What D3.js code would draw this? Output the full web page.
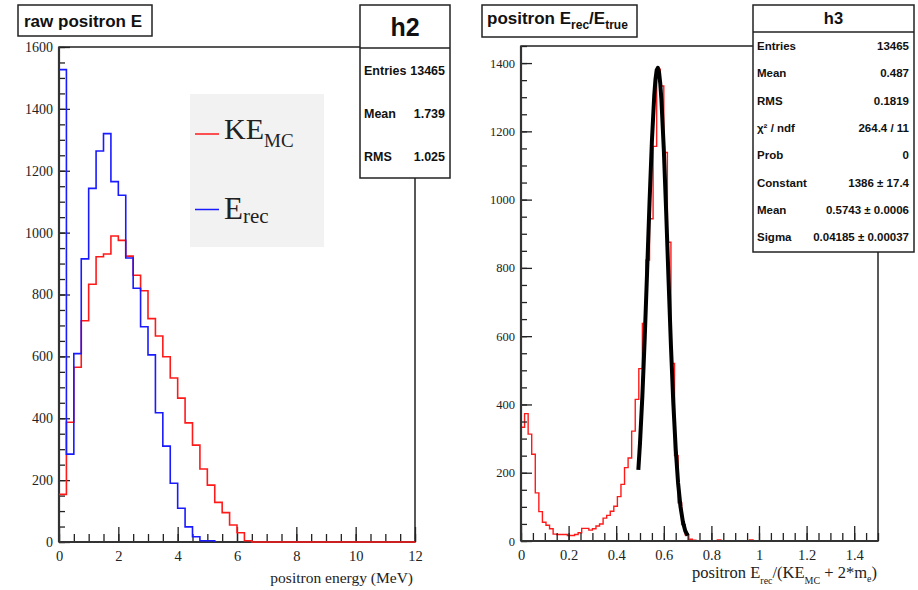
<!DOCTYPE html>
<html>
<head>
<meta charset="utf-8">
<script src="https://cdn.jsdelivr.net/npm/d3@7"></script>
<style>
  body { margin: 0; background: #fff; }
  svg text { font-family: "Liberation Serif", "Times New Roman", serif; fill: #222; }
  svg text.sans { font-family: "Liberation Sans", Arial, sans-serif; font-weight: bold; fill: #111; }
</style>
</head>
<body>
<div id="chart"></div>
<script>
// left pad: raw positron E, 0.25 MeV bins starting at 0
const energyBinWidth = 0.25;
const keMcCounts = [154, 387, 565, 715, 833, 922, 931, 989, 975, 924, 862, 812,
  722, 666, 599, 530, 465, 385, 313, 236, 184, 128, 95, 55,
  30, 4, 0, 0, 0, 0, 0, 0, 0, 0, 0, 0,
  0, 0, 0, 0, 0, 0, 0, 0, 0, 0, 0, 0];
const eRecCounts = [1527, 284, 609, 915, 1143, 1264, 1320, 1165, 1121, 918, 820, 696,
  605, 418, 310, 190, 109, 49, 17, 4, 4];
const energyTicks = [0, 2, 4, 6, 8, 10, 12];
const leftCountTicks = [0, 200, 400, 600, 800, 1000, 1200, 1400, 1600];
const h2Stats = [["Entries", "13465"], ["Mean", "1.739"], ["RMS", "1.025"]];

// right pad: Erec/Etrue, 100 bins of 0.015 from 0 to 1.5
const ratioBinWidth = 0.015;
const ratioCounts = [333, 373, 313, 254, 141, 86, 55, 46, 36, 20,
  19, 19, 19, 16, 16, 19, 24, 37, 37, 32,
  36, 44, 50, 67, 75, 87, 102, 130, 166, 215,
  243, 322, 415, 505, 637, 823, 944, 1156, 1382, 1333,
  1138, 875, 520, 250, 112, 48, 18, 5, 2, 0,
  0, 0, 0, 0, 0, 3, 0, 0, 0, 0,
  0, 0, 0, 0, 3, 0, 0, 0, 0, 0,
  0, 0, 0, 0, 0, 0, 0, 0, 0, 0,
  0, 0, 0, 0, 0, 0, 0, 0, 0, 0,
  0, 0, 0, 0, 0, 0, 0, 0, 0, 0];
// gaus fit curve
const fitX = [0.493, 0.50, 0.51, 0.52, 0.53, 0.54, 0.55, 0.56, 0.565, 0.57, 0.575,
  0.58, 0.585, 0.59, 0.60, 0.61, 0.62, 0.63, 0.64, 0.65, 0.66, 0.67, 0.68, 0.69, 0.70];
const fitY = [208, 287, 426, 597, 792, 991, 1171, 1307, 1352, 1379, 1386,
  1373, 1341, 1292, 1148, 963, 764, 572, 404, 270, 170, 101, 57, 30, 16];
const ratioTicks = [0, 0.2, 0.4, 0.6, 0.8, 1, 1.2, 1.4];
const rightCountTicks = [0, 200, 400, 600, 800, 1000, 1200, 1400];
const h3Stats = [["Entries", "13465"], ["Mean", "0.487"], ["RMS", "0.1819"],
  ["\u03c7\u00b2 / ndf", "264.4 / 11"], ["Prob", "0"], ["Constant", "1386 \u00b1 17.4"],
  ["Mean", "0.5743 \u00b1 0.0006"], ["Sigma", "0.04185 \u00b1 0.00037"]];

const width = 918, height = 590;
const svg = d3.select("#chart").append("svg")
  .attr("width", width).attr("height", height);
svg.append("rect").attr("width", width).attr("height", height).attr("fill", "#fff");

function histPath(x, y, counts, bw) {
  const pts = counts.map((c, i) => [i * bw, c]);
  const n = counts.length;
  pts.push([n * bw, counts[n - 1]]);
  pts.push([n * bw, 0]);
  return d3.line().x(d => x(d[0])).y(d => y(d[1])).curve(d3.curveStepAfter)(pts);
}

function drawAxes(x, y, opt) {
  const [xa, xb] = x.range(), [ya, yb] = y.range();
  // frame
  svg.append("rect")
    .attr("x", xa).attr("y", yb).attr("width", xb - xa).attr("height", ya - yb)
    .attr("fill", "none").attr("stroke", "#222").attr("stroke-width", 1.5);

  const xMinor = svg.append("g").attr("transform", `translate(0,${ya})`)
    .call(d3.axisBottom(x).tickValues(d3.range(0, x.domain()[1] + 1e-6, opt.xMinorStep))
      .tickSize(-8).tickFormat(""));
  const xMajor = svg.append("g").attr("transform", `translate(0,${ya})`)
    .call(d3.axisBottom(x).tickValues(opt.xTicks).tickSize(-15).tickPadding(9)
      .tickFormat(d3.format("~g")));
  const yMinor = svg.append("g").attr("transform", `translate(${xa},0)`)
    .call(d3.axisLeft(y).tickValues(d3.range(0, y.domain()[1] + 1e-6, 50))
      .tickSize(-6).tickFormat(""));
  const yMajor = svg.append("g").attr("transform", `translate(${xa},0)`)
    .call(d3.axisLeft(y).tickValues(opt.yTicks).tickSize(-11).tickPadding(6)
      .tickFormat(d3.format("d")));

  [xMinor, xMajor, yMinor, yMajor].forEach(g => {
    g.select(".domain").remove();
    g.attr("font-family", null).attr("font-size", null);
    g.selectAll("line").attr("stroke", "#222").attr("stroke-width", 1.3);
  });
  xMajor.selectAll("text").style("font-size", opt.xFont + "px");
  yMajor.selectAll("text").style("font-size", opt.yFont + "px");

  // axis lines a bit heavier than the frame
  svg.append("line").attr("x1", xa).attr("x2", xa).attr("y1", ya).attr("y2", yb)
    .attr("stroke", "#333").attr("stroke-width", 2.2);
  svg.append("line").attr("x1", xa).attr("x2", xb).attr("y1", ya).attr("y2", ya)
    .attr("stroke", "#333").attr("stroke-width", 2.2);
}

function statBox(x0, y0, w, h, headerH, title, titleSize, rows, rowY, rowSize) {
  const g = svg.append("g");
  g.append("rect").attr("x", x0).attr("y", y0).attr("width", w).attr("height", h)
    .attr("fill", "#fff").attr("stroke", "#222").attr("stroke-width", 1.5);
  g.append("line").attr("x1", x0).attr("x2", x0 + w)
    .attr("y1", y0 + headerH).attr("y2", y0 + headerH)
    .attr("stroke", "#222").attr("stroke-width", 1.5);
  g.append("text").attr("class", "sans")
    .attr("x", x0 + w / 2).attr("y", y0 + headerH / 2)
    .attr("dy", "0.36em").attr("text-anchor", "middle")
    .style("font-size", titleSize + "px").text(title);
  rows.forEach((r, i) => {
    g.append("text").attr("class", "sans").attr("x", x0 + 4).attr("y", rowY(i))
      .attr("dy", "0.36em").style("font-size", rowSize + "px").text(r[0]);
    g.append("text").attr("class", "sans").attr("x", x0 + w - 5).attr("y", rowY(i))
      .attr("dy", "0.36em").attr("text-anchor", "end")
      .style("font-size", rowSize + "px").text(r[1]);
  });
}

// ---------------- left pad ----------------
const xE = d3.scaleLinear().domain([0, 12]).range([59, 415]);
const yE = d3.scaleLinear().domain([0, 1600]).range([542, 47]);

drawAxes(xE, yE, { xTicks: energyTicks, xMinorStep: 0.5, yTicks: leftCountTicks, xFont: 14.5, yFont: 14 });

svg.append("path").attr("d", histPath(xE, yE, keMcCounts, energyBinWidth))
  .attr("fill", "none").attr("stroke", "#ff1a1a").attr("stroke-width", 1.6);
svg.append("path").attr("d", histPath(xE, yE, eRecCounts, energyBinWidth))
  .attr("fill", "none").attr("stroke", "#1a1aff").attr("stroke-width", 1.6);

svg.append("text").attr("x", 413).attr("y", 583).attr("text-anchor", "end")
  .style("font-size", "15.5px").text("positron energy (MeV)");

// title box
svg.append("rect").attr("x", 18).attr("y", 5).attr("width", 134).attr("height", 31)
  .attr("fill", "#fff").attr("stroke", "#222").attr("stroke-width", 1.5);
svg.append("text").attr("class", "sans").attr("x", 24).attr("y", 26.5)
  .style("font-size", "17px").text("raw positron E");

// legend
const leg = svg.append("g");
leg.append("rect").attr("x", 190).attr("y", 94).attr("width", 134).attr("height", 153)
  .attr("fill", "#f2f2f2");
leg.append("line").attr("x1", 195).attr("x2", 219).attr("y1", 134).attr("y2", 134)
  .attr("stroke", "#ff1a1a").attr("stroke-width", 1.5);
const t1 = leg.append("text").attr("x", 224).attr("y", 139).style("font-size", "30px");
t1.append("tspan").text("KE");
t1.append("tspan").attr("dy", 8).style("font-size", "19px").text("MC");
leg.append("line").attr("x1", 195).attr("x2", 219).attr("y1", 209.5).attr("y2", 209.5)
  .attr("stroke", "#1a1aff").attr("stroke-width", 1.5);
const t2 = leg.append("text").attr("x", 224).attr("y", 219).style("font-size", "31px");
t2.append("tspan").text("E");
t2.append("tspan").attr("dy", 4).style("font-size", "21px").text("rec");

statBox(360, 5, 90, 173, 43, "h2", 25, h2Stats, i => 70 + i * 43, 12.5);

// ---------------- right pad ----------------
const xR = d3.scaleLinear().domain([0, 1.5]).range([521, 878]);
const yR = d3.scaleLinear().domain([0, 1450]).range([541, 46]);

svg.append("path").attr("d", histPath(xR, yR, ratioCounts, ratioBinWidth))
  .attr("fill", "none").attr("stroke", "#ff1a1a").attr("stroke-width", 1.4);

drawAxes(xR, yR, { xTicks: ratioTicks, xMinorStep: 0.05, yTicks: rightCountTicks, xFont: 14.5, yFont: 12.5 });

svg.append("path")
  .attr("d", d3.line().x((d, i) => xR(fitX[i])).y(d => yR(d))(fitY))
  .attr("fill", "none").attr("stroke", "#000").attr("stroke-width", 4)
  .attr("stroke-linejoin", "round");

const xt = svg.append("text").attr("x", 877).attr("y", 578).attr("text-anchor", "end")
  .style("font-size", "16.5px");
xt.append("tspan").text("positron E");
xt.append("tspan").attr("dy", 6).style("font-size", "10px").text("rec");
xt.append("tspan").attr("dy", -6).text("/(KE");
xt.append("tspan").attr("dy", 6).style("font-size", "10px").text("MC");
xt.append("tspan").attr("dy", -6).text(" + 2*m");
xt.append("tspan").attr("dy", 4).style("font-size", "10px").text("e");
xt.append("tspan").attr("dy", -4).text(")");

svg.append("rect").attr("x", 482).attr("y", 5).attr("width", 155).attr("height", 32)
  .attr("fill", "#fff").attr("stroke", "#222").attr("stroke-width", 1.5);
const rt = svg.append("text").attr("class", "sans").attr("x", 487).attr("y", 23.5)
  .style("font-size", "17px");
rt.append("tspan").text("positron E");
rt.append("tspan").attr("dy", 5).style("font-size", "12px").text("rec");
rt.append("tspan").attr("dy", -5).text("/E");
rt.append("tspan").attr("dy", 5).style("font-size", "12px").text("true");

statBox(753, 5, 161, 247, 27, "h3", 16.5, h3Stats, i => 46 + i * 27.3, 11.5);
</script>
</body>
</html>
